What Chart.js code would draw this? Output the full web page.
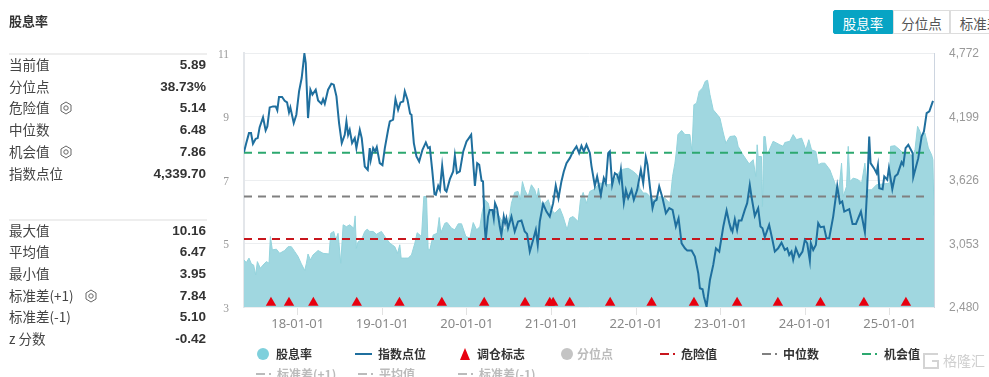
<!DOCTYPE html>
<html lang="zh">
<head>
<meta charset="utf-8">
<title>股息率</title>
<script src="https://cdn.jsdelivr.net/npm/chart.js@4/dist/chart.umd.js"></script>
<style>
html,body{margin:0;padding:0;background:#fff;width:989px;height:377px;overflow:hidden;font-family:"Noto Sans CJK SC","Liberation Sans",sans-serif;}
#wrap{position:relative;width:989px;height:377px;overflow:hidden;}
#c{position:absolute;left:0;top:0;}
.t{position:absolute;white-space:nowrap;}
#title{left:9px;top:11px;font-size:13px;font-weight:700;color:#333;line-height:19px;}
.sep{position:absolute;left:9px;width:198px;height:2px;background:#eee;}
.row{position:absolute;left:9px;width:197px;height:20px;line-height:20px;font-size:13.5px;color:#444;}
.row span{position:relative;top:-1px;}
.row b{position:absolute;right:0;top:0;font:700 13.5px/20px "Liberation Sans",sans-serif;color:#333;}
.row svg{position:absolute;top:3px;}
#tabs div{position:absolute;top:10px;height:24px;line-height:24px;text-align:center;font-size:13.5px;color:#555;border:1px solid #ddd;box-sizing:border-box;background:#fff;overflow:hidden;white-space:nowrap;}
#tabs .on{background:#07a4c4;color:#fff;border-color:#07a4c4;border-radius:2px 0 0 2px;}
.lg{position:absolute;font-size:12px;font-weight:600;color:#333;line-height:16px;white-space:nowrap;}
.lg.off{color:#bbb;}
.mk{position:absolute;}
#wm{position:absolute;left:943px;top:349px;font-size:14px;color:#cfcfcf;line-height:22px;white-space:nowrap;}
</style>
</head>
<body>
<div id="wrap">
<canvas id="c" width="989" height="377"></canvas>
<div class="t" id="title">股息率</div>
<div id="panel"></div>
<div id="tabs"></div>
<div id="legend"></div>
<div id="wm">格隆汇</div>
<svg style="position:absolute;left:921px;top:351px" width="20" height="20" viewBox="0 0 20 20" fill="none" stroke="#d4d4d4" stroke-width="2"><path d="M17 3H3v14h14V10h-6"/></svg>
</div>
<script>
const tickYears=[2018,2019,2020,2021,2022,2023,2024,2025];
const tickLabels=["18-01-01","19-01-01","20-01-01","21-01-01","22-01-01","23-01-01","24-01-01","25-01-01"];
const rightTicks=[2480,3053,3626,4199,4772];
const leftTicks=[3,5,7,9,11];

const indexYears=[
2017.365,2017.392,2017.424,2017.448,2017.471,2017.503,2017.527,2017.550,2017.590,2017.621,
2017.641,2017.669,2017.708,2017.740,2017.759,2017.779,2017.815,2017.846,2017.874,2017.897,
2017.913,2017.953,2017.984,2018.016,2018.047,2018.079,2018.095,2018.122,2018.150,2018.174,
2018.213,2018.241,2018.280,2018.300,2018.320,2018.359,2018.398,2018.426,2018.458,2018.489,
2018.521,2018.556,2018.576,2018.596,2018.615,2018.643,2018.675,2018.694,2018.734,2018.757,
2018.793,2018.828,2018.852,2018.864,2018.892,2018.915,2018.935,2018.970,2019.002,2019.030,
2019.069,2019.089,2019.128,2019.156,2019.187,2019.215,2019.247,2019.266,2019.298,2019.329,
2019.345,2019.373,2019.404,2019.436,2019.475,2019.515,2019.542,2019.562,2019.590,2019.617,
2019.633,2019.661,2019.681,2019.708,2019.740,2019.759,2019.799,2019.838,2019.858,2019.882,
2019.917,2019.957,2019.996,2020.024,2020.051,2020.095,2020.122,2020.146,2020.174,2020.191,
2020.211,2020.223,2020.250,2020.270,2020.302,2020.318,2020.333,2020.357,2020.389,2020.408,
2020.436,2020.452,2020.467,2020.487,2020.527,2020.566,2020.605,2020.645,2020.684,2020.712,
2020.744,2020.783,2020.815,2020.838,2020.862,2020.901,2020.941,2020.980,2021.020,2021.051,
2021.083,2021.118,2021.146,2021.178,2021.217,2021.256,2021.296,2021.327,2021.355,2021.383,
2021.414,2021.454,2021.473,2021.513,2021.540,2021.584,2021.619,2021.643,2021.671,2021.690,
2021.718,2021.750,2021.777,2021.801,2021.821,2021.856,2021.880,2021.907,2021.947,2021.974,
2022.014,2022.057,2022.085,2022.116,2022.136,2022.164,2022.195,2022.215,2022.243,2022.274,
2022.314,2022.353,2022.393,2022.432,2022.471,2022.503,2022.539,2022.578,2022.606,2022.657,
2022.696,2022.736,2022.755,2022.787,2022.803,2022.834,2022.874,2022.913,2022.945,2022.984,
2023.032,2023.071,2023.103,2023.108,2023.140,2023.168,2023.195,2023.215,2023.247,2023.286,
2023.314,2023.345,2023.365,2023.404,2023.444,2023.471,2023.495,2023.523,2023.574,2023.613,
2023.641,2023.680,2023.720,2023.759,2023.787,2023.811,2023.838,2023.858,2023.890,2023.929,
2023.968,2023.996,2024.024,2024.055,2024.067,2024.095,2024.126,2024.154,2024.181,2024.221,
2024.252,2024.284,2024.331,2024.379,2024.410,2024.438,2024.462,2024.521,2024.560,2024.600,
2024.659,2024.706,2024.734,2024.757,2024.773,2024.813,2024.844,2024.860,2024.876,2024.915,
2024.935,2024.970,2024.990,2025.030,2025.061,2025.093,2025.140,2025.160,2025.187,2025.219,
2025.270,2025.278,2025.337,2025.377,2025.404,2025.436,2025.468,2025.511];
const indexPoints=[
3878,3959,4049,4049,3953,3998,4004,4103,4191,4073,
4109,4281,4290,4290,4254,4375,4375,4341,4326,4236,
4281,4140,4215,4426,4546,4766,4682,4185,4441,4396,
4441,4344,4314,4356,4314,4441,4495,4486,4381,4140,
3959,4034,4155,4034,4079,3959,4004,3914,4079,4004,
3748,3718,3914,3808,3914,3884,3923,3778,3760,3914,
4079,4155,4170,4356,4260,4326,4335,4426,4350,4224,
4215,3959,3838,3793,3899,3965,3914,3923,3718,3498,
3492,3573,3537,3754,3537,3522,3634,3703,3844,3688,
3703,3884,3974,4004,4034,3573,3778,3763,3619,3613,
3206,3085,3296,3356,3356,3281,3417,3372,3206,3131,
3296,3236,3281,3191,3296,3161,3251,3260,3161,3140,
2980,3085,3176,3040,3251,3411,3341,3296,3417,3576,
3462,3613,3703,3778,3823,3884,3929,3869,3935,3884,
3944,3869,3754,3573,3658,3492,3643,3597,3869,3884,
3582,3688,3673,3613,3718,3423,3537,3462,3537,3447,
3537,3718,3597,3832,3763,3567,3372,3432,3447,3567,
3462,3326,3372,3356,3206,3281,3055,3010,2989,2989,
2935,2784,2649,2640,2573,2483,2724,2860,3010,2980,
3206,3350,3236,3221,3161,3272,3176,3260,3260,3356,
3417,3582,3477,3302,3372,3206,3191,3110,3221,3085,
2980,3010,3061,2995,3010,2950,2980,2905,3010,2935,
2980,3085,3055,2899,3055,2995,3040,3236,3200,3206,
3100,3100,3296,3573,3417,3432,3341,3363,3230,3230,
3341,3155,3567,4019,3778,3733,3688,3757,3552,3543,
3658,3628,3733,3543,3658,3679,3787,3763,3914,3944,
3869,3652,3823,4019,4064,4230,4245,4340];

const yieldYears=[
2017.365,2017.392,2017.424,2017.452,2017.479,2017.503,2017.523,2017.558,2017.590,2017.629,
2017.661,2017.677,2017.700,2017.748,2017.787,2017.846,2017.886,2017.925,2017.964,2018.004,
2018.043,2018.083,2018.103,2018.122,2018.150,2018.181,2018.241,2018.300,2018.371,2018.391,
2018.426,2018.450,2018.477,2018.509,2018.537,2018.576,2018.615,2018.663,2018.679,2018.694,
2018.714,2018.753,2018.793,2018.821,2018.852,2018.892,2018.931,2018.990,2019.030,2019.089,
2019.148,2019.180,2019.207,2019.223,2019.266,2019.306,2019.345,2019.385,2019.412,2019.464,
2019.491,2019.523,2019.542,2019.562,2019.602,2019.649,2019.673,2019.692,2019.740,2019.767,
2019.819,2019.858,2019.898,2019.937,2019.988,2020.036,2020.075,2020.115,2020.154,2020.178,
2020.213,2020.253,2020.270,2020.349,2020.408,2020.448,2020.507,2020.527,2020.566,2020.605,
2020.633,2020.657,2020.684,2020.724,2020.763,2020.803,2020.830,2020.846,2020.874,2020.921,
2020.961,2021.000,2021.039,2021.099,2021.138,2021.185,2021.217,2021.256,2021.316,2021.343,
2021.375,2021.414,2021.454,2021.493,2021.533,2021.572,2021.611,2021.671,2021.730,2021.789,
2021.848,2021.907,2021.967,2022.014,2022.045,2022.085,2022.124,2022.164,2022.203,2022.282,
2022.341,2022.400,2022.432,2022.460,2022.479,2022.495,2022.539,2022.578,2022.637,2022.661,
2022.684,2022.716,2022.747,2022.787,2022.819,2022.846,2022.874,2022.913,2022.961,2022.992,
2023.032,2023.063,2023.110,2023.170,2023.187,2023.207,2023.266,2023.337,2023.385,2023.416,
2023.432,2023.444,2023.483,2023.495,2023.511,2023.527,2023.550,2023.621,2023.700,2023.740,
2023.759,2023.819,2023.858,2023.897,2023.957,2024.008,2024.043,2024.075,2024.126,2024.154,
2024.193,2024.233,2024.292,2024.351,2024.391,2024.430,2024.450,2024.489,2024.509,2024.529,
2024.568,2024.627,2024.667,2024.706,2024.734,2024.785,2024.844,2024.994,2025.010,2025.061,
2025.120,2025.180,2025.219,2025.270,2025.298,2025.329,2025.357,2025.377,2025.416,2025.456,
2025.495,2025.510,2025.523];
const yieldValues=[
4.48,4.40,4.54,4.36,4.32,4.01,4.43,4.22,4.32,4.43,
4.38,5.22,4.80,4.82,4.69,4.78,4.90,4.90,4.75,4.59,
4.36,4.15,4.38,4.67,4.48,4.64,4.78,4.69,4.67,5.32,
5.38,5.11,5.32,4.38,5.59,5.53,5.59,5.48,5.87,4.85,
5.06,5.11,5.38,5.45,5.38,5.38,5.29,5.38,5.22,5.01,
4.90,4.69,4.96,4.54,4.54,4.54,4.64,5.01,5.34,5.22,
6.48,6.48,4.82,4.80,5.27,5.32,5.82,5.34,5.64,5.66,
5.48,5.43,5.62,5.62,5.22,5.17,5.66,5.43,5.53,5.95,
6.38,6.27,6.06,6.01,5.74,5.38,5.90,6.27,6.61,6.64,
6.38,6.95,6.69,6.48,6.85,6.69,6.43,6.74,6.27,6.27,
6.38,6.06,5.95,6.11,5.85,5.43,5.80,5.85,5.69,6.38,
6.61,6.27,6.64,6.69,6.80,6.90,6.90,6.85,6.90,7.22,
7.34,7.37,7.27,7.16,6.74,6.59,6.59,6.48,6.38,6.48,
6.43,6.27,7.11,7.53,7.95,8.43,8.56,8.43,8.43,7.90,
9.37,9.42,9.79,9.90,10.11,10.14,9.69,9.21,9.06,8.95,
8.48,8.16,8.37,8.39,8.32,8.06,7.79,7.51,7.64,7.11,
8.11,7.74,7.74,6.17,8.37,8.37,7.79,8.22,8.11,8.06,
8.18,8.22,8.43,8.27,8.32,7.95,8.27,7.95,7.90,7.48,
7.53,7.53,7.32,6.90,6.48,7.53,6.48,6.80,8.06,6.95,
7.06,7.01,6.90,7.53,6.69,6.69,6.85,6.90,8.06,8.08,
7.95,7.79,7.85,7.74,7.95,8.69,8.53,8.37,8.48,8.01,
7.79,7.64,5.89];

const markerYears=[2017.684,2017.897,2018.185,2018.698,2019.203,2019.704,2020.205,2020.688,2020.980,2021.020,2021.217,2021.694,2022.184,2022.685,2023.195,2023.677,2024.181,2024.694,2025.191];
const markerValues=[3.13,3.13,3.13,3.13,3.13,3.13,3.13,3.13,3.13,3.13,3.13,3.13,3.13,3.13,3.13,3.13,3.13,3.13,3.13];

const spanYears=[2017.365,2025.47];
const dangerValue=5.14, medianValue=6.48, chanceValue=7.86;

const topStats=[["当前值","5.89"],["分位点","38.73%"],["危险值","5.14",1],["中位数","6.48"],["机会值","7.86",1],["指数点位","4,339.70"]];
const bottomStats=[["最大值","10.16"],["平均值","6.47"],["最小值","3.95"],["标准差(+1)","7.84",1],["标准差(-1)","5.10"],["z 分数","-0.42"]];
const tabNames=["股息率","分位点","标准差"];

const gear=x=>`<svg style="left:${x}px" width="14" height="14" viewBox="0 0 14 14" fill="none" stroke="#666" stroke-width="1"><path d="M7 1l5 3v6l-5 3-5-3V4z"/><circle cx="7" cy="7" r="2.2"/></svg>`;
const panel=document.getElementById('panel');
function addRows(rows,ys,gx){rows.forEach((r,i)=>{const d=document.createElement('div');d.className='row';d.style.top=(ys[i]-10)+'px';
 d.innerHTML='<span>'+r[0]+'</span>'+(r[2]?gear(gx(r[0])):'')+'<b>'+r[1]+'</b>';panel.appendChild(d);});}
[53,219].forEach(y=>{const s=document.createElement('div');s.className='sep';s.style.top=y+'px';panel.appendChild(s);});
addRows(topStats,[65,87,108,130,152,174],()=>50);
addRows(bottomStats,[231,252,274,296,317,339],n=>n.length>3?75:50);

const tabs=document.getElementById('tabs');
[[833,60],[893,57],[950,60]].forEach((g,i)=>{const d=document.createElement('div');if(i===0)d.className='on';d.style.left=g[0]+'px';d.style.width=g[1]+'px';d.textContent=tabNames[i];tabs.appendChild(d);});

const legendItems=[
 {t:"股息率",x:276,y:354,m:"dot",c:"#7fd0dc"},
 {t:"指数点位",x:378,y:354,m:"line",c:"#1f6f9e",mx:355},
 {t:"调仓标志",x:477,y:354,m:"tri",c:"#e8000f",mx:460},
 {t:"分位点",x:577,y:354,m:"dot",c:"#c4c4c4",off:1,mx:561},
 {t:"危险值",x:681,y:354,m:"dash",c:"#c8161d",mx:660},
 {t:"中位数",x:783,y:354,m:"dash",c:"#808080",mx:762},
 {t:"机会值",x:884,y:354,m:"dash",c:"#2ca86f",mx:862},
 {t:"标准差(+1)",x:277,y:374,m:"dash",c:"#bbb",off:1,mx:256},
 {t:"平均值",x:379,y:374,m:"dash",c:"#bbb",off:1,mx:358},
 {t:"标准差(-1)",x:479,y:374,m:"dash",c:"#bbb",off:1,mx:458}];
const lg=document.getElementById('legend');
legendItems.forEach(it=>{
 const t=document.createElement('div');t.className='lg'+(it.off?' off':'');t.style.left=it.x+'px';t.style.top=(it.y-8)+'px';t.textContent=it.t;lg.appendChild(t);
 const m=document.createElement('div');m.className='mk';
 if(it.m==='dot'){m.style.cssText=`left:${(it.mx||257)}px;top:${it.y-6}px;width:12px;height:12px;border-radius:50%;background:${it.c}`;}
 else if(it.m==='line'){m.style.cssText=`left:${it.mx}px;top:${it.y-1}px;width:17px;height:2px;background:${it.c}`;}
 else if(it.m==='tri'){m.style.cssText=`left:${it.mx}px;top:${it.y-6}px;width:0;height:0;border-left:5px solid transparent;border-right:5px solid transparent;border-bottom:12px solid ${it.c}`;}
 else{m.style.cssText=`left:${it.mx}px;top:${it.y-1}px;width:16px;height:2px;background:linear-gradient(90deg,${it.c} 0,${it.c} 9px,transparent 9px,transparent 13px,${it.c} 13px,${it.c} 15px,transparent 15px)`;}
 lg.appendChild(m);
});

const pts=(xs,ys)=>xs.map((x,i)=>({x,y:ys[i]}));
const flat=v=>spanYears.map(x=>({x,y:v}));
const dash=(label,v,color)=>({label,data:flat(v),borderColor:color,borderWidth:2,borderDash:[8,6],pointRadius:0,yAxisID:'y',order:3,fill:false});

new Chart(document.getElementById('c'),{
 type:'line',
 data:{datasets:[
  {label:'股息率',data:pts(yieldYears,yieldValues),borderColor:'#93d3dc',backgroundColor:'#a0d7e0',borderWidth:1,pointRadius:0,fill:'start',tension:0,yAxisID:'y',order:5},
  dash('危险值',dangerValue,'#c8161d'),
  dash('中位数',medianValue,'#808080'),
  dash('机会值',chanceValue,'#2ca86f'),
  {label:'指数点位',data:pts(indexYears,indexPoints),borderColor:'#1f6f9e',borderWidth:2,pointRadius:0,fill:false,tension:0,yAxisID:'y1',order:2},
  {label:'调仓标志',data:pts(markerYears,markerValues),showLine:false,pointStyle:'triangle',pointRadius:6,pointBackgroundColor:'#e8000f',pointBorderColor:'#e8000f',pointBorderWidth:0,yAxisID:'y',order:1,clip:false}
 ]},
 options:{
  responsive:false,animation:false,
  layout:{padding:{top:53,left:0,right:0,bottom:0}},
  plugins:{legend:{display:false},tooltip:{enabled:false},title:{display:false}},
  scales:{
   x:{type:'linear',min:2017.365,max:2025.523,
    afterBuildTicks:a=>{a.ticks=tickYears.map(v=>({value:v}));},
    afterFit:a=>{a.height=70;},
    grid:{drawOnChartArea:false,drawTicks:true,tickLength:8,color:'#e2e2e2'},
    border:{display:false},
    ticks:{autoSkip:false,maxRotation:0,padding:1,color:'#888',font:{family:'"Noto Sans"',size:13},callback:v=>tickLabels[tickYears.indexOf(v)]}},
   y:{position:'left',min:3,max:11,
    afterBuildTicks:a=>{a.ticks=leftTicks.map(v=>({value:v}));},
    afterFit:a=>{a.width=244;},
    grid:{color:'#eceef0',lineWidth:1,drawTicks:false},
    border:{display:true,color:'#e3e6ea',width:2},
    ticks:{padding:15,labelOffset:1.5,color:'#999',font:{family:'"Liberation Serif"',size:11.5}}},
   y1:{position:'right',min:2480,max:4772,
    afterBuildTicks:a=>{a.ticks=rightTicks.map(v=>({value:v}));},
    afterFit:a=>{a.width=55;},
    grid:{drawOnChartArea:false,drawTicks:false},
    border:{display:true,color:'#cdd5e0',width:1},
    ticks:{padding:15,labelOffset:1,color:'#999',font:{family:'"Liberation Sans"',size:12},callback:v=>v.toLocaleString('en-US')}}
  }
 }
});
</script>
</body>
</html>
